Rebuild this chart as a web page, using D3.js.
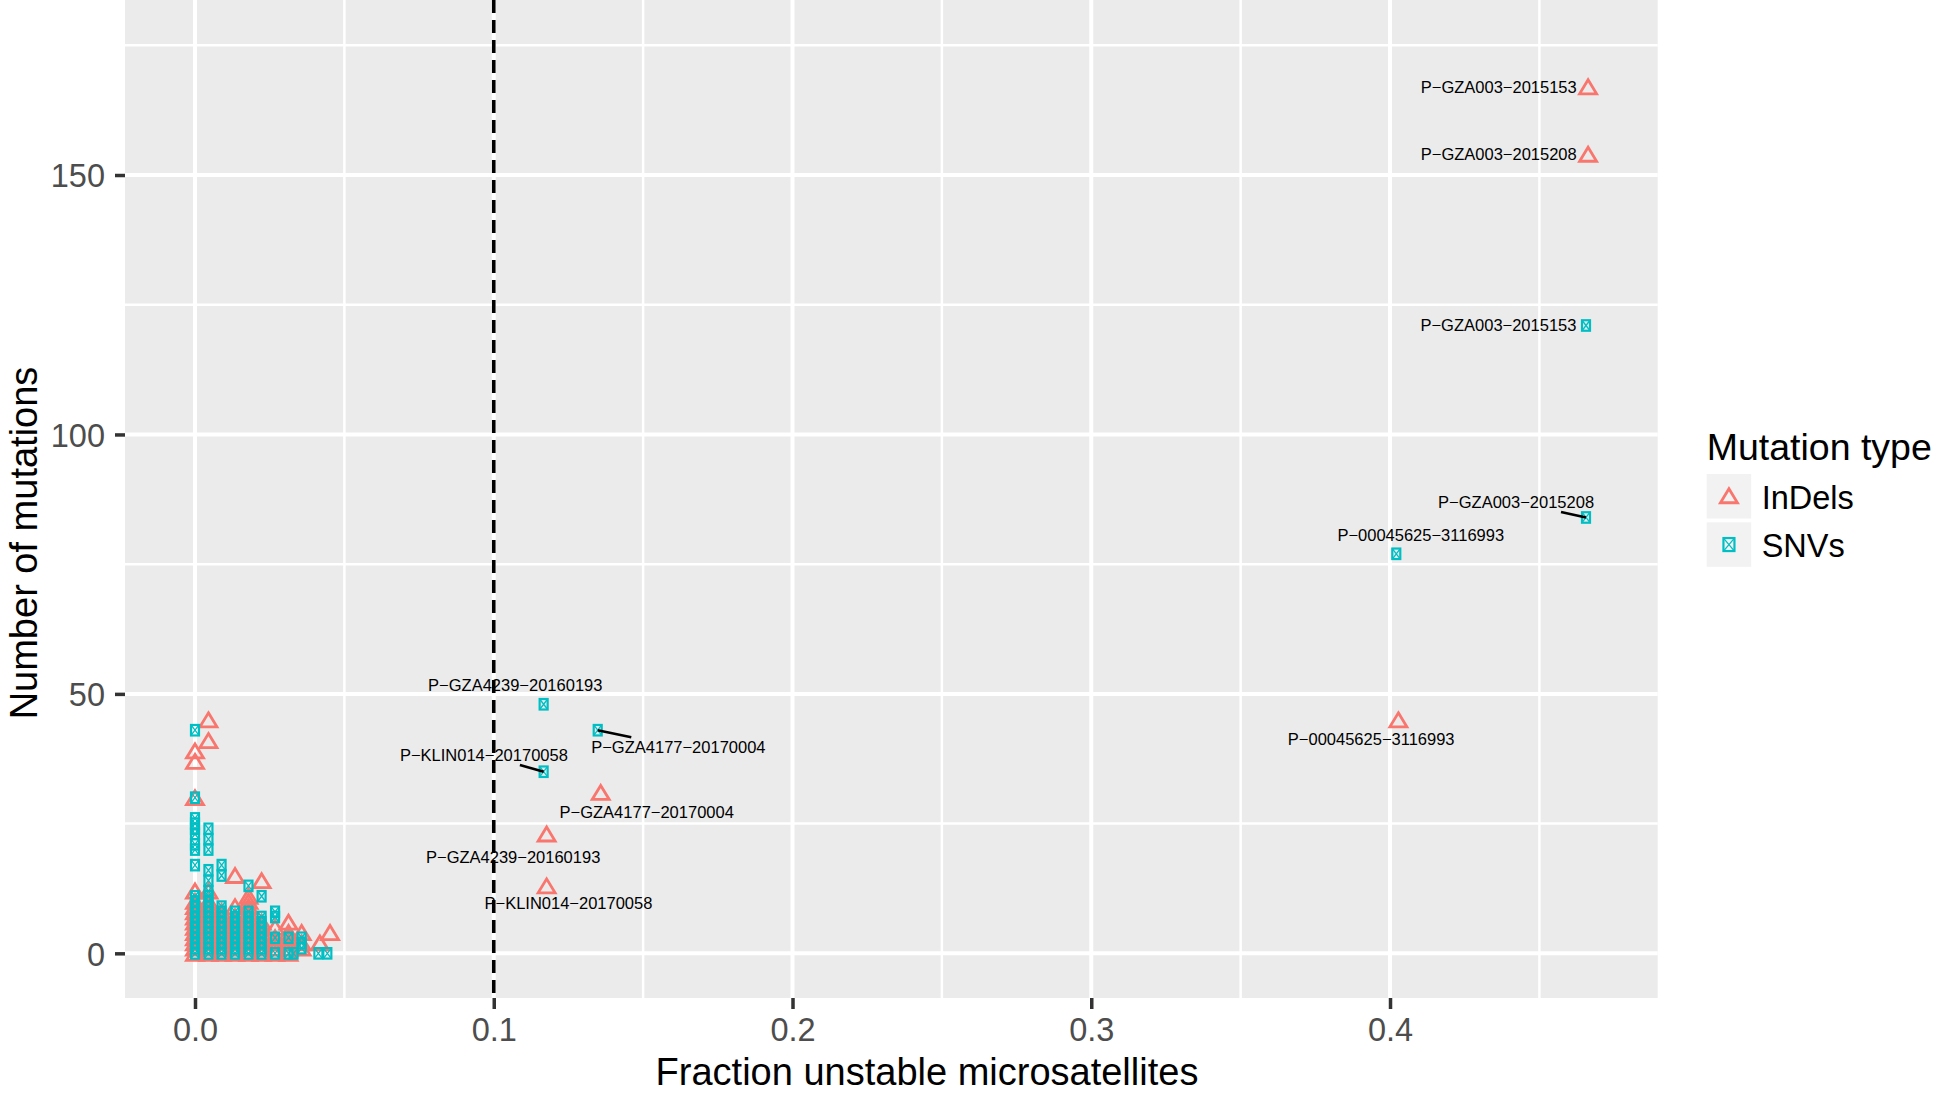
<!DOCTYPE html>
<html>
<head>
<meta charset="utf-8">
<script src="https://cdn.jsdelivr.net/npm/d3@7"></script>
<style>
  html, body { margin: 0; padding: 0; background: #ffffff; }
  svg { display: block; }
  text { font-family: "Liberation Sans", Arial, Helvetica, sans-serif; }
</style>
</head>
<body>
<svg id="chart" width="1939" height="1093"></svg>
<script>
// ---------------- DATA ----------------
const xTicks = [0, 0.1, 0.2, 0.3, 0.4];
const xTickLabels = ["0.0", "0.1", "0.2", "0.3", "0.4"];
const xMinor = [0.05, 0.15, 0.25, 0.35, 0.45];
const yTicks = [0, 50, 100, 150];
const yTickLabels = ["0", "50", "100", "150"];
const yMinor = [25, 75, 125, 175];
const msiThreshold = 0.1;
const seriesNames = ["InDels", "SNVs"];
const seriesColors = ["#F8766D", "#00BFC4"];

// Dense cluster of low-instability samples, read column by column
const indelColumnX = [0, 0.0045, 0.0089, 0.0134, 0.0179, 0.0223, 0.0268, 0.0313, 0.0357, 0.0418, 0.0452];
const indelColumnY = [
  [0, 1, 2, 3, 4, 5, 6, 7, 8, 9, 10, 12, 30, 37, 39],
  [0, 1, 2, 3, 4, 5, 6, 7, 8, 9, 10, 12, 41, 45],
  [0, 1, 2, 3, 4, 5, 6, 7, 8],
  [0, 1, 2, 3, 4, 5, 6, 7, 9, 15],
  [0, 1, 2, 3, 4, 5, 6, 7, 8, 9, 10, 11],
  [0, 1, 2, 3, 4, 5, 6, 14],
  [0, 1, 2, 3, 5],
  [0, 1, 2, 3, 4, 6],
  [1, 2, 4],
  [2],
  [4]
];
const snvColumnX = [0, 0.0045, 0.0089, 0.0134, 0.0179, 0.0223, 0.0268, 0.0313, 0.0330, 0.0357, 0.0413, 0.0443];
const snvColumnY = [
  [0, 1, 2, 3, 4, 5, 6, 7, 8, 9, 10, 11, 17, 20, 21, 23, 24, 25, 26, 30, 43],
  [0, 1, 2, 3, 4, 5, 6, 7, 8, 9, 10, 11, 12, 14, 16, 20, 22, 24],
  [0, 1, 2, 3, 4, 5, 6, 7, 8, 9, 15, 17],
  [0, 1, 2, 3, 4, 5, 6, 7, 8],
  [0, 1, 2, 3, 4, 5, 6, 7, 8, 13],
  [0, 1, 2, 3, 4, 5, 6, 7, 11],
  [0, 3, 7, 8],
  [0, 3],
  [0],
  [1, 2, 3],
  [0],
  [0]
];

// Labelled (high-instability) samples
const labelNames = [
  "P−GZA003−2015153", "P−GZA003−2015208", "P−00045625−3116993",
  "P−GZA4177−20170004", "P−GZA4239−20160193", "P−KLIN014−20170058",
  "P−GZA003−2015153", "P−GZA003−2015208", "P−00045625−3116993",
  "P−GZA4239−20160193", "P−GZA4177−20170004", "P−KLIN014−20170058"
];
const labelType = ["InDels", "InDels", "InDels", "InDels", "InDels", "InDels",
                   "SNVs", "SNVs", "SNVs", "SNVs", "SNVs", "SNVs"];
const labelPointX = [0.4663, 0.4663, 0.4028, 0.1358, 0.1177, 0.1177,
                     0.4656, 0.4656, 0.4021, 0.1167, 0.1348, 0.1167];
const labelPointY = [167, 154, 45, 31, 23, 13,
                     121, 84, 77, 48, 43, 35];
// repelled label centres (data units)
const labelTextX = [0.4364, 0.4364, 0.3937, 0.1512, 0.1065, 0.1250,
                    0.4363, 0.4422, 0.4103, 0.1072, 0.1618, 0.0967];
const labelTextY = [167.0, 154.0, 41.4, 27.3, 18.6, 9.75,
                    121.0, 87.0, 80.6, 51.8, 39.7, 38.2];
const labelSegment = [false, false, false, false, false, false,
                      false, true, false, false, true, true];

// ---------------- BUILD ----------------
const indels = [];
indelColumnX.forEach((cx, i) => indelColumnY[i].forEach(v => indels.push({x: cx, y: v})));
const snvs = [];
snvColumnX.forEach((cx, i) => snvColumnY[i].forEach(v => snvs.push({x: cx, y: v})));
const labelled = labelNames.map((n, i) => ({
  name: n, type: labelType[i], x: labelPointX[i], y: labelPointY[i],
  lx: labelTextX[i], ly: labelTextY[i], seg: labelSegment[i]
}));
labelled.forEach(d => (d.type === "InDels" ? indels : snvs).push({x: d.x, y: d.y}));

const svg = d3.select("#chart");
const panel = {left: 125, right: 1657.7, top: 0, bottom: 998};

const x = d3.scaleLinear().domain([-0.02343, 0.4896]).range([panel.left, panel.right]);
const y = d3.scaleLinear().domain([-8.61, 183.73]).range([panel.bottom, panel.top]);
const color = d3.scaleOrdinal().domain(seriesNames).range(seriesColors);

// panel background
svg.append("rect")
  .attr("x", panel.left).attr("y", panel.top)
  .attr("width", panel.right - panel.left).attr("height", panel.bottom - panel.top)
  .attr("fill", "#EBEBEB");

const grid = svg.append("g");
grid.selectAll(".vminor").data(xMinor).enter().append("line")
  .attr("x1", d => x(d)).attr("x2", d => x(d))
  .attr("y1", panel.top).attr("y2", panel.bottom)
  .attr("stroke", "#ffffff").attr("stroke-width", 2.5);
grid.selectAll(".hminor").data(yMinor).enter().append("line")
  .attr("y1", d => y(d)).attr("y2", d => y(d))
  .attr("x1", panel.left).attr("x2", panel.right)
  .attr("stroke", "#ffffff").attr("stroke-width", 2.5);
grid.selectAll(".vmajor").data(xTicks).enter().append("line")
  .attr("x1", d => x(d)).attr("x2", d => x(d))
  .attr("y1", panel.top).attr("y2", panel.bottom)
  .attr("stroke", "#ffffff").attr("stroke-width", 4);
grid.selectAll(".hmajor").data(yTicks).enter().append("line")
  .attr("y1", d => y(d)).attr("y2", d => y(d))
  .attr("x1", panel.left).attr("x2", panel.right)
  .attr("stroke", "#ffffff").attr("stroke-width", 4);

// axes
const xAxis = d3.axisBottom(x).tickValues(xTicks)
  .tickFormat((d, i) => xTickLabels[i]).tickSize(11).tickPadding(9);
const gx = svg.append("g").attr("transform", `translate(0,${panel.bottom})`).call(xAxis);
const yAxis = d3.axisLeft(y).tickValues(yTicks)
  .tickFormat((d, i) => yTickLabels[i]).tickSize(10).tickPadding(10);
const gy = svg.append("g").attr("transform", `translate(${panel.left},0)`).call(yAxis);
[gx, gy].forEach(g => {
  g.select(".domain").remove();
  g.selectAll(".tick line").attr("stroke", "#333333").attr("stroke-width", 3.5);
  g.selectAll(".tick text").attr("fill", "#4D4D4D")
    .style("font-size", "32.5px")
    .style("font-family", '"Liberation Sans", Arial, Helvetica, sans-serif');
});
gy.selectAll(".tick text").attr("dy", "0.36em");

// threshold line
svg.append("line")
  .attr("x1", x(msiThreshold)).attr("x2", x(msiThreshold))
  .attr("y1", panel.top).attr("y2", panel.bottom)
  .attr("stroke", "#000000").attr("stroke-width", 3.6)
  .attr("stroke-dasharray", "13 7");

// marker helpers
const triW = 17, triH = 14;
function triPath(cx, cy, w, h) {
  return `M${cx},${cy - h / 2}L${cx + w / 2},${cy + h / 2}L${cx - w / 2},${cy + h / 2}Z`;
}
function drawSquare(g, cx, cy, w, h) {
  const c = color("SNVs");
  g.append("rect").attr("x", cx - w / 2).attr("y", cy - h / 2)
    .attr("width", w).attr("height", h)
    .attr("fill", "none").attr("stroke", c).attr("stroke-width", 2.2);
  g.append("path")
    .attr("d", `M${cx - w / 2},${cy - h / 2}L${cx + w / 2},${cy + h / 2}M${cx + w / 2},${cy - h / 2}L${cx - w / 2},${cy + h / 2}`)
    .attr("fill", "none").attr("stroke", c).attr("stroke-width", 1.3);
}

const pts = svg.append("g");
pts.selectAll(".tri").data(indels).enter().append("path")
  .attr("d", d => triPath(x(d.x), y(d.y), triW, triH))
  .attr("fill", "none").attr("stroke", color("InDels"))
  .attr("stroke-width", 2.8).attr("stroke-linejoin", "miter");
const sq = svg.append("g");
snvs.forEach(d => drawSquare(sq, x(d.x), y(d.y), 8, 10.5));

// labels with segments
const lab = svg.append("g");
labelled.forEach(d => {
  const cx = x(d.lx), cy = y(d.ly);
  const t = lab.append("text")
    .attr("x", cx).attr("y", cy + 6)
    .attr("text-anchor", "middle")
    .attr("fill", "#000000")
    .style("font-size", "16.5px")
    .text(d.name);
  if (d.seg) {
    const w = t.node().getComputedTextLength();
    const hw = w / 2 + 2, hh = 10;
    const px = x(d.x), py = y(d.y);
    const dx = px - cx, dy = py - cy;
    const tt = Math.min(hw / Math.abs(dx || 1e-6), hh / Math.abs(dy || 1e-6));
    lab.append("line")
      .attr("x1", cx + tt * dx).attr("y1", cy + tt * dy)
      .attr("x2", px).attr("y2", py)
      .attr("stroke", "#000000").attr("stroke-width", 2.6);
  }
});

// axis titles
svg.append("text")
  .attr("x", 927).attr("y", 1085)
  .attr("text-anchor", "middle").attr("fill", "#000000")
  .style("font-size", "38px")
  .text("Fraction unstable microsatellites");
svg.append("text")
  .attr("transform", "translate(37,543) rotate(-90)")
  .attr("text-anchor", "middle").attr("fill", "#000000")
  .style("font-size", "38px")
  .text("Number of mutations");

// legend
const leg = svg.append("g");
leg.append("text").attr("x", 1706.7).attr("y", 460)
  .attr("fill", "#000000").style("font-size", "37.5px").text("Mutation type");
const keyX = 1706.7, keySize = 44.5, keyTops = [474, 522.3], labBase = [509.3, 557.3];
seriesNames.forEach((s, i) => {
  leg.append("rect").attr("x", keyX).attr("y", keyTops[i])
    .attr("width", keySize).attr("height", keySize)
    .attr("fill", "#F2F2F2");
  const cx = keyX + keySize / 2, cy = keyTops[i] + keySize / 2;
  if (s === "InDels") {
    leg.append("path").attr("d", triPath(cx, cy - 0.5, 17, 14))
      .attr("fill", "none").attr("stroke", color(s)).attr("stroke-width", 2.8);
  } else {
    drawSquare(leg, cx, cy, 11, 13);
  }
  leg.append("text").attr("x", 1761.7).attr("y", labBase[i])
    .attr("fill", "#000000").style("font-size", "32.5px").text(s);
});
</script>
</body>
</html>
